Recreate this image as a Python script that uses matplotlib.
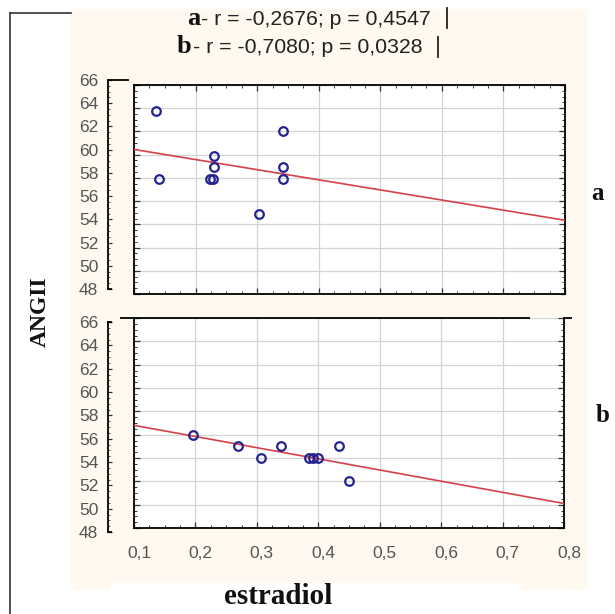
import matplotlib
matplotlib.use("Agg")
import matplotlib.pyplot as plt
from matplotlib.lines import Line2D
from matplotlib.patches import Rectangle
import matplotlib.transforms as mtransforms
from matplotlib.ticker import MultipleLocator, FixedLocator

# ---------------- data ----------------
x_a = [0.136, 0.141, 0.224, 0.229, 0.230, 0.230, 0.342, 0.342, 0.342, 0.303]
y_a = [63.8, 57.9, 57.9, 57.9, 58.9, 59.9, 62.0, 58.9, 57.9, 54.9]
x_b = [0.196, 0.270, 0.307, 0.339, 0.385, 0.392, 0.400, 0.433, 0.450]
y_b = [56.0, 55.0, 54.0, 55.0, 54.0, 54.0, 54.0, 55.0, 52.0]
fit_x = [0.1, 0.8]
fit_a = [60.45, 54.35]
fit_b = [56.8, 50.1]
xticks = [0.1, 0.2, 0.3, 0.4, 0.5, 0.6, 0.7, 0.8]
xtick_labels = ["0,1", "0,2", "0,3", "0,4", "0,5", "0,6", "0,7", "0,8"]
yticks = [48, 50, 52, 54, 56, 58, 60, 62, 64, 66]
ytick_labels = [str(v) for v in yticks]
stats_a = "- r = -0,2676; p = 0,4547"
stats_b = "- r = -0,7080; p = 0,0328"
panel_a = "a"
panel_b = "b"
ylabel = "ANGII"
xlabel = "estradiol"

W, H = 615, 614
fig = plt.figure(figsize=(W / 100, H / 100), dpi=100)
fig.patch.set_facecolor("white")


def rect(x0, y0, x1, y1):
    return [x0 / W, 1 - y1 / H, (x1 - x0) / W, (y1 - y0) / H]


def fx(x):
    return x / W


def fy(y):
    return 1 - y / H


# background decorations
cream = "#fff9ef"
fig.add_artist(Rectangle((fx(71), fy(590)), fx(588) - fx(71), fy(9) - fy(590),
                         transform=fig.transFigure, facecolor=cream, edgecolor="none", zorder=-10))
fig.add_artist(Rectangle((fx(110), fy(614)), fx(520) - fx(110), fy(583) - fy(614),
                         transform=fig.transFigure, facecolor="white", edgecolor="none", zorder=-9))
fig.add_artist(Line2D([fx(10), fx(10)], [fy(13), fy(614)], transform=fig.transFigure,
                      color="#333333", lw=1.2))
fig.add_artist(Line2D([fx(10), fx(71)], [fy(13), fy(13)], transform=fig.transFigure,
                      color="#333333", lw=1.2))

navy = "#24248f"
red = "#d6404c"
grid_c = "#d4d4d4"
tick_c = "#555555"
tick_font = "Liberation Sans"


def main_axes(r, xs, ys, fit, bottom_labels):
    ax = fig.add_axes(r)
    ax.set_facecolor("white")
    ax.set_xlim(0.1, 0.8)
    ax.set_ylim(48, 66)
    ax.xaxis.set_major_locator(FixedLocator(xticks))
    ax.yaxis.set_major_locator(FixedLocator(yticks))
    ax.xaxis.set_minor_locator(MultipleLocator(0.025))
    ax.yaxis.set_minor_locator(MultipleLocator(0.5))
    ax.grid(True, which="major", color=grid_c, lw=0.9, zorder=0)
    ax.set_axisbelow(True)
    ax.tick_params(which="both", direction="in", top=True, right=True, left=True, bottom=True,
                   labelleft=False, color="#333333")
    ax.tick_params(which="major", length=4, width=0.9)
    ax.tick_params(which="minor", length=2.5, width=0.7)
    if bottom_labels:
        ax.set_xticklabels(xtick_labels, fontsize=12.5, color=tick_c, family=tick_font)
        ax.tick_params(axis="x", which="major", pad=13)
        off = mtransforms.ScaledTranslation(5 / 100, 0, fig.dpi_scale_trans)
        for lab in ax.get_xticklabels():
            lab.set_transform(lab.get_transform() + off)
    else:
        ax.tick_params(labelbottom=False)
    for s in ax.spines.values():
        s.set_linewidth(1.3)
        s.set_color("black")
    ax.plot(fit_x, fit, color=red, lw=1.2, zorder=3)
    ax.plot(xs, ys, linestyle="none", marker="o", ms=6.2, mfc="none", mec=navy, mew=1.6, zorder=4)
    return ax


def scale_axes(r, top_hook):
    ax = fig.add_axes(r)
    ax.patch.set_alpha(0)
    ax.set_xlim(0, 20)
    ax.set_ylim(48, 66)
    ax.yaxis.set_major_locator(FixedLocator(yticks))
    ax.yaxis.set_minor_locator(MultipleLocator(0.5))
    ax.set_yticklabels(ytick_labels, fontsize=12.5, color=tick_c, family=tick_font)
    ax.set_xticks([])
    ax.spines["right"].set_visible(False)
    ax.spines["top"].set_bounds(0, top_hook)
    ax.spines["bottom"].set_bounds(0, 2.5)
    for s in ax.spines.values():
        s.set_linewidth(1.3)
    ax.tick_params(axis="y", which="both", direction="in", color="#333333", pad=7)
    ax.tick_params(axis="y", which="major", length=3, width=0.9)
    ax.tick_params(axis="y", which="minor", length=1.5, width=0.6)
    return ax


ax_a = main_axes(rect(134, 85, 565, 294), x_a, y_a, fit_a, False)
ax_b = main_axes(rect(134, 318, 564, 528), x_b, y_b, fit_b, True)

# bottom panel: odd top border and right bracket hook
ax_b.spines["top"].set_visible(False)
ax_b.tick_params(which="both", top=False)
ax_b.plot([(120 - 134) / 430, (530 - 134) / 430], [1, 1], transform=ax_b.transAxes,
          color="black", lw=1.3, clip_on=False, solid_capstyle="butt")
ax_b.plot([1, 1 + 8 / 430], [1, 1], transform=ax_b.transAxes,
          color="black", lw=1.3, clip_on=False, solid_capstyle="butt")

scale_axes(rect(108, 80, 128, 289), 20)
scale_axes(rect(108, 322, 128, 532), 2.5)

# header statistics
serif = "Liberation Serif"
fig.text(fx(200), fy(25), panel_a, ha="right", va="baseline", family=serif,
         fontweight="bold", fontsize=19, color="#111111")
fig.text(fx(201), fy(25), stats_a, ha="left", va="baseline", family=tick_font,
         fontsize=15.3, color="#222222")
fig.text(fx(191), fy(53), panel_b, ha="right", va="baseline", family=serif,
         fontweight="bold", fontsize=19, color="#111111")
fig.text(fx(193), fy(53), stats_b, ha="left", va="baseline", family=tick_font,
         fontsize=15.3, color="#222222")
fig.add_artist(Line2D([fx(447), fx(447)], [fy(8), fy(28)], transform=fig.transFigure,
                      color="#222222", lw=1.3))
fig.add_artist(Line2D([fx(438), fx(438)], [fy(37), fy(57)], transform=fig.transFigure,
                      color="#222222", lw=1.3))

# panel letters and axis titles
fig.text(fx(598), fy(194), panel_a, ha="center", va="center", family=serif,
         fontweight="bold", fontsize=18, color="#111111")
fig.text(fx(603), fy(416), panel_b, ha="center", va="center", family=serif,
         fontweight="bold", fontsize=18, color="#111111")
fig.text(fx(40), fy(312), ylabel, ha="center", va="center", rotation=90, family=serif,
         fontweight="bold", fontsize=17, color="#111111")
fig.text(fx(278), fy(597), xlabel, ha="center", va="center", family=serif,
         fontweight="bold", fontsize=21, color="#111111")

fig.savefig("out.png", dpi=100, facecolor=fig.get_facecolor())
